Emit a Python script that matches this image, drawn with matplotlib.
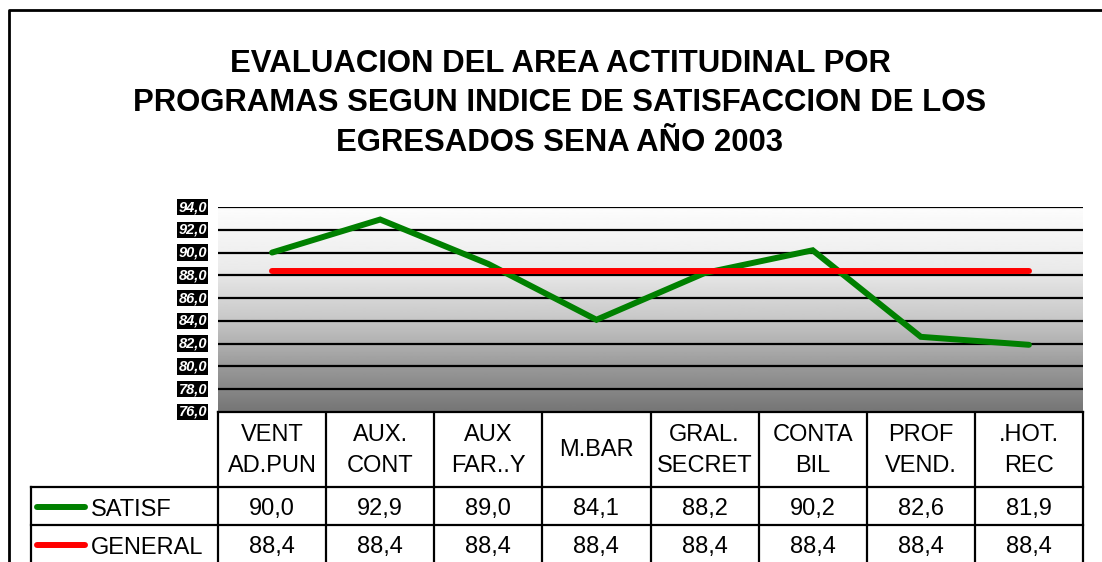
import numpy as np
import matplotlib.pyplot as plt

plt.rcParams['font.family'] = ['Liberation Sans', 'DejaVu Sans']

# chart data
title = "EVALUACION DEL AREA ACTITUDINAL POR\nPROGRAMAS SEGUN INDICE DE SATISFACCION DE LOS\nEGRESADOS SENA AÑO 2003"
categories = ["VENT\nAD.PUN", "AUX.\nCONT", "AUX\nFAR..Y", "M.BAR", "GRAL.\nSECRET",
              "CONTA\nBIL", "PROF\nVEND.", ".HOT.\nREC"]
satisf = [90.0, 92.9, 89.0, 84.1, 88.2, 90.2, 82.6, 81.9]
general = [88.4, 88.4, 88.4, 88.4, 88.4, 88.4, 88.4, 88.4]
series_names = ["SATISF", "GENERAL"]
series_colors = ["#008000", "#ff0000"]
yticks = np.arange(76, 95, 2)

W, H = 1102, 562
fig = plt.figure(figsize=(W / 100, H / 100), dpi=100)

# background layer in pixel coords (border + table)
bg = fig.add_axes([0, 0, 1, 1])
bg.set_xlim(0, W)
bg.set_ylim(H, 0)
bg.axis("off")
bg.plot([9, 9, W + 5], [H + 5, 10, 10], color="black", lw=2)

# plot area
px_l, px_r, px_t, px_b = 218, 1083, 207, 412
ax = fig.add_axes([px_l / W, 1 - px_b / H, (px_r - px_l) / W, (px_b - px_t) / H])
ax.set_xlim(-0.5, len(categories) - 0.5)
ax.set_ylim(yticks[0], yticks[-1])

grad = np.interp(np.linspace(0, 1, 256), [0, 0.3, 0.55, 0.78, 1.0],
                 [0.99, 0.92, 0.78, 0.6, 0.46])
ax.imshow(grad[:, None], extent=[-0.5, len(categories) - 0.5, yticks[0], yticks[-1]],
          aspect="auto", cmap="gray", vmin=0, vmax=1, zorder=0)
for y in yticks:
    ax.axhline(y, color="black", lw=1.6, zorder=1)

x = np.arange(len(categories))
ax.plot(x, satisf, color=series_colors[0], lw=4.3, solid_capstyle="round",
        solid_joinstyle="miter", zorder=3)
ax.plot(x, general, color=series_colors[1], lw=4.3, solid_capstyle="round", zorder=3)
for s in ax.spines.values():
    s.set_visible(False)
ax.set_xticks([])
ax.set_yticks([])

# y tick labels: white bold italic on black
for y in yticks:
    ax.text(-0.5 - 11 / 108, y, f"{y:.1f}".replace(".", ","), ha="right", va="center",
            fontsize=10.5, fontweight="bold", fontstyle="italic", color="white",
            bbox=dict(facecolor="black", edgecolor="none", pad=0.8))

fig.text(560 / W, 1 - 103.5 / H, title, ha="center", va="center", fontsize=22.4,
         fontweight="bold", linespacing=1.4)

# data table
col_w = (px_r - px_l) / len(categories)
row_top = [px_b, 487, 525, 563]
lc = dict(color="black", lw=1.6)
for i in range(len(categories) + 1):
    xx = px_l + i * col_w
    bg.plot([xx, xx], [px_b, H + 5], **lc)
bg.plot([31, 31], [row_top[1], H + 5], **lc)
bg.plot([px_l, px_r], [px_b, px_b], **lc)
for r in row_top[1:3]:
    bg.plot([31, px_r], [r, r], **lc)

for i, cat in enumerate(categories):
    cx = px_l + (i + 0.5) * col_w
    bg.text(cx, (row_top[0] + row_top[1]) / 2 + 1, cat, ha="center", va="center",
            fontsize=17, linespacing=1.55)

for r, (name, vals, col) in enumerate(zip(series_names, [satisf, general], series_colors)):
    cy = (row_top[r + 1] + row_top[r + 2]) / 2 + 3.5
    bg.plot([37, 85], [cy - 3, cy - 3], color=col, lw=4.3, solid_capstyle="round")
    bg.text(91, cy, name, ha="left", va="center", fontsize=17)
    for i, v in enumerate(vals):
        cx = px_l + (i + 0.5) * col_w
        bg.text(cx, cy, f"{v:.1f}".replace(".", ","), ha="center", va="center", fontsize=17)

fig.savefig("out.png", dpi=100)
